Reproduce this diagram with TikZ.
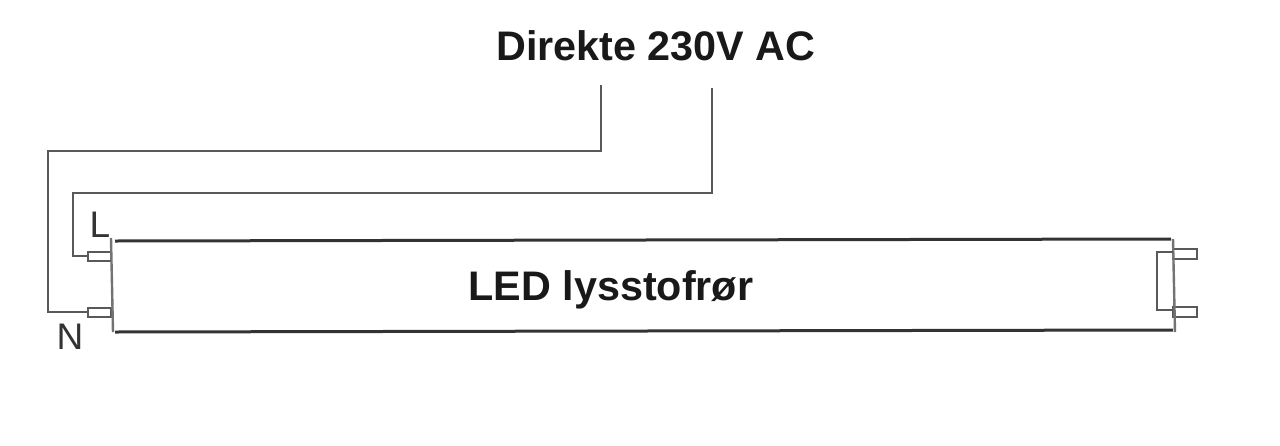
\documentclass[tikz,border=0pt]{standalone}
\usepackage{fontspec}
\setmainfont{Liberation Sans}
\begin{document}
\begin{tikzpicture}[x=1pt,y=-1pt,
  wire/.style={draw=black!65,line width=2.8pt},
  tube/.style={draw=black!80,line width=3pt},
  tubeside/.style={draw=black!55,line width=2.4pt},
  pin/.style={draw=black!65,fill=white,line width=2.8pt},
  title/.style={font=\bfseries\fontsize{41.3}{46}\selectfont,text=black!90,inner sep=0pt,anchor=base},
  tag/.style={font=\fontsize{37}{42}\selectfont,text=black!80,inner sep=0pt,anchor=base}]
\useasboundingbox (0,0) rectangle (1280,445);
\fill[white] (0,0) rectangle (1280,445);
\node[title] (head) at (656,60) {Direkte 230V AC};
\node[title] (led) at (611,300) {LED lysstofrør};
\node[tag] (L) at (100,237) {L};
\node[tag] (N) at (70,349) {N};
\draw[pin] (88,252) rectangle (111,261);
\draw[pin] (88,308) rectangle (111,317);
\draw[pin] (1173,249) rectangle (1197,259);
\draw[pin] (1173,307) rectangle (1197,317);
\draw[tube] (115,241) -- (1171,239);
\draw[tube] (115,332) -- (1173,330);
\draw[tubeside] (111,238) -- (113,332);
\draw[tubeside] (1173,239) -- (1175,332);
\draw[wire] (1173,252) -- (1157,252) -- (1157,310) -- (1173,310);
\coordinate (a1) at (601,85);
\coordinate (a2) at (712,88);
\coordinate (p1) at (88,312);
\coordinate (p2) at (88,256);
\draw[wire] (a1) -- (601,151) -- (48,151) -- (48,312) -- (p1);
\draw[wire] (a2) -- (712,193) -- (73,193) -- (73,256) -- (p2);
\end{tikzpicture}
\end{document}
